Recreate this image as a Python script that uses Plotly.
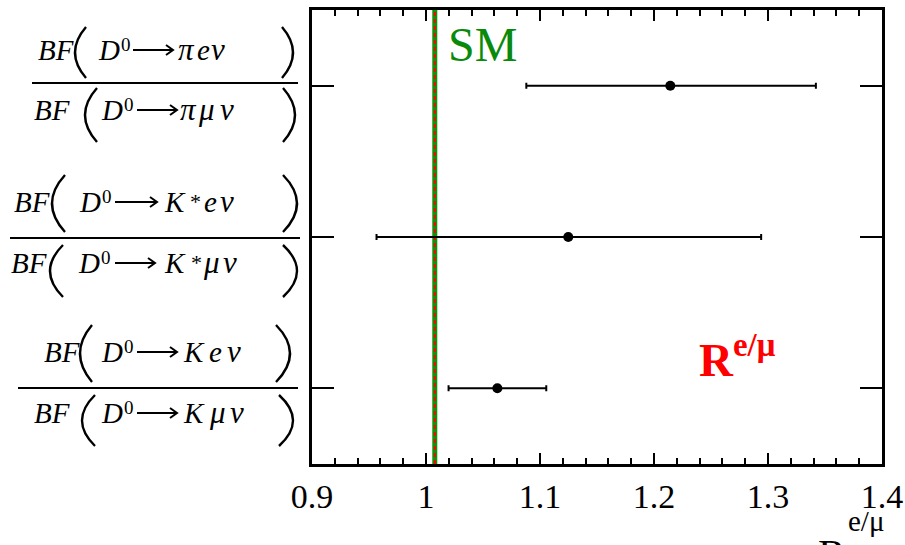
import plotly.graph_objects as go

# ---------------- data ----------------
channels = ["K", "K*", "pi"]                 # bottom to top
ratio = [1.0626, 1.1248, 1.2143]             # measured R(e/mu)
ratio_lo = [1.0198, 0.9566, 1.0880]          # lower end of the uncertainty band
ratio_hi = [1.1055, 1.2940, 1.3420]          # upper end of the uncertainty band
sm_value = 1.0077                            # Standard Model expectation
x_ticks = [0.9, 1.0, 1.1, 1.2, 1.3, 1.4]
x_tick_labels = ["0.9", "1", "1.1", "1.2", "1.3", "1.4"]

# ---------------- geometry ----------------
W, H = 905, 545
L, R, T, B = 312, 882, 10, 464               # plot-area edges in pixels
SERIF = "Liberation Serif, Times New Roman, Tinos, serif"


def px2x(px):
    return (px - L) / (R - L)


def py2y(py):
    return (B - py) / (B - T)


err_plus = [h - v for h, v in zip(ratio_hi, ratio)]
err_minus = [v - l for v, l in zip(ratio, ratio_lo)]

fig = go.Figure()
fig.add_trace(go.Scatter(
    x=ratio, y=channels, mode="markers",
    marker=dict(color="black", size=10, symbol="circle"),
    error_x=dict(type="data", array=err_plus, arrayminus=err_minus,
                 color="black", thickness=2, width=3),
    showlegend=False,
))

shapes = []
annotations = []

# Standard Model band: green line with a red dashed line on top
shapes.append(dict(type="line", xref="x", yref="paper", x0=sm_value, x1=sm_value,
                   y0=0, y1=1, line=dict(color="#0a960a", width=5), layer="below"))
shapes.append(dict(type="line", xref="x", yref="paper", x0=sm_value, x1=sm_value,
                   y0=0, y1=1, line=dict(color="#ff0000", width=2, dash="4px,3px"),
                   layer="below"))


def text_at(s, left_px, base_px, size, color="black", italic=False, bold=False):
    """Place text with its left edge at left_px and baseline at base_px."""
    if italic:
        s = "<i>" + s + "</i>"
    if bold:
        s = "<b>" + s + "</b>"
    desc = 0.216 * size
    annotations.append(dict(
        text=s, xref="paper", yref="paper",
        x=px2x(left_px), y=py2y(base_px + desc),
        xanchor="left", yanchor="bottom", showarrow=False, borderpad=0,
        font=dict(family=SERIF, size=size, color=color),
    ))


def paren(x_in, x_out, top, bot):
    """Tall parenthesis drawn as a quadratic curve."""
    cx = 2 * x_out - x_in
    cy = (top + bot) / 2
    path = "M {},{} Q {},{} {},{}".format(
        px2x(x_in), py2y(top), px2x(cx), py2y(cy), px2x(x_in), py2y(bot))
    shapes.append(dict(type="path", xref="paper", yref="paper", path=path,
                       line=dict(color="black", width=2.4)))


def arrow(x0, x1, y):
    p = "M {},{} L {},{} M {},{} L {},{} L {},{}".format(
        px2x(x0), py2y(y), px2x(x1), py2y(y),
        px2x(x1 - 7), py2y(y - 5), px2x(x1), py2y(y), px2x(x1 - 7), py2y(y + 5))
    shapes.append(dict(type="path", xref="paper", yref="paper", path=p,
                       line=dict(color="black", width=2)))


def bf_row(base, bf, lp, d, arr, glyphs, rp, ptop, pbot):
    base += 1
    text_at("BF", bf, base, 29, italic=True)
    paren(lp[1], lp[0], ptop, pbot)
    text_at("D", d, base, 29, italic=True)
    text_at("0", d + 23, base - 9, 19)
    arrow(arr[0], arr[1], base - 11)
    for g, gx, kind in glyphs:
        if kind == "star":
            text_at(g, gx, base - 3, 22)
        elif kind == "greek":
            text_at(g, gx, base, 31, italic=True)
        else:
            text_at(g, gx, base, 29, italic=True)
    paren(rp[0], rp[1], ptop, pbot)


# fraction labels for each channel
labels = [
    dict(line=(32, 298, 83),
         num=dict(base=60, bf=37, lp=(75, 86), d=97, arr=(133, 173),
                  glyphs=[("π", 177, "greek"), ("e", 196, ""), ("ν", 210, "greek")],
                  rp=(282, 293), ptop=27, pbot=78),
         den=dict(base=120, bf=33, lp=(85, 97), d=100, arr=(137, 177),
                  glyphs=[("π", 179, "greek"), ("μ", 197, "greek"), ("ν", 219, "greek")],
                  rp=(283, 295), ptop=88, pbot=142)),
    dict(line=(10, 300, 238),
         num=dict(base=212, bf=13, lp=(52, 65), d=78, arr=(115, 157),
                  glyphs=[("K", 163, ""), ("*", 189, "star"), ("e", 203, ""), ("ν", 219, "greek")],
                  rp=(283, 297), ptop=175, pbot=232),
         den=dict(base=273, bf=10, lp=(50, 63), d=77, arr=(115, 155),
                  glyphs=[("K", 163, ""), ("*", 190, "star"), ("μ", 202, "greek"), ("ν", 222, "greek")],
                  rp=(283, 297), ptop=245, pbot=297)),
    dict(line=(18, 298, 388),
         num=dict(base=362, bf=43, lp=(80, 92), d=100, arr=(137, 177),
                  glyphs=[("K", 182, ""), ("e", 208, ""), ("ν", 226, "greek")],
                  rp=(276, 290), ptop=325, pbot=382),
         den=dict(base=423, bf=33, lp=(82, 95), d=100, arr=(137, 177),
                  glyphs=[("K", 182, ""), ("μ", 208, "greek"), ("ν", 229, "greek")],
                  rp=(279, 293), ptop=395, pbot=446)),
]

for lab in labels:
    x0, x1, yl = lab["line"]
    shapes.append(dict(type="line", xref="paper", yref="paper",
                       x0=px2x(x0), x1=px2x(x1), y0=py2y(yl), y1=py2y(yl),
                       line=dict(color="black", width=2)))
    for part in ("num", "den"):
        p = lab[part]
        bf_row(p["base"], p["bf"], p["lp"], p["d"], p["arr"], p["glyphs"],
               p["rp"], p["ptop"], p["pbot"])

# "SM" tag next to the Standard Model line
text_at("SM", 447, 62, 48, color="#0a8a0a")

# red R^{e/mu} legend text
text_at("R<sup>e/μ</sup>", 698, 377, 47, color="#ff0000", bold=True)

# x-axis title at the lower right
text_at("R", 817, 570, 42)
text_at("e/μ", 847, 532, 29)

fig.update_layout(
    width=W, height=H, autosize=False,
    margin=dict(l=L, r=W - R, t=T, b=H - B, autoexpand=False),
    paper_bgcolor="white", plot_bgcolor="white",
    showlegend=False,
    shapes=shapes, annotations=annotations,
    xaxis=dict(
        range=[0.9, 1.4], tickmode="array", tickvals=x_ticks, ticktext=x_tick_labels,
        ticks="inside", ticklen=11, tickwidth=2, tickcolor="black",
        minor=dict(tick0=0.9, dtick=0.02, ticks="inside", ticklen=6,
                   tickwidth=2, tickcolor="black", showgrid=False),
        showline=True, linewidth=3, linecolor="black", mirror="ticks",
        showgrid=False, zeroline=False, automargin=False,
        tickfont=dict(family=SERIF, size=34, color="black"),
    ),
    yaxis=dict(
        type="category", categoryorder="array", categoryarray=channels,
        range=[-0.5, 2.5], ticks="inside", ticklen=22, tickwidth=2, tickcolor="black",
        showticklabels=False, showline=True, linewidth=3, linecolor="black",
        mirror="ticks", showgrid=False, zeroline=False, automargin=False,
    ),
)

fig.write_html("out.html")
